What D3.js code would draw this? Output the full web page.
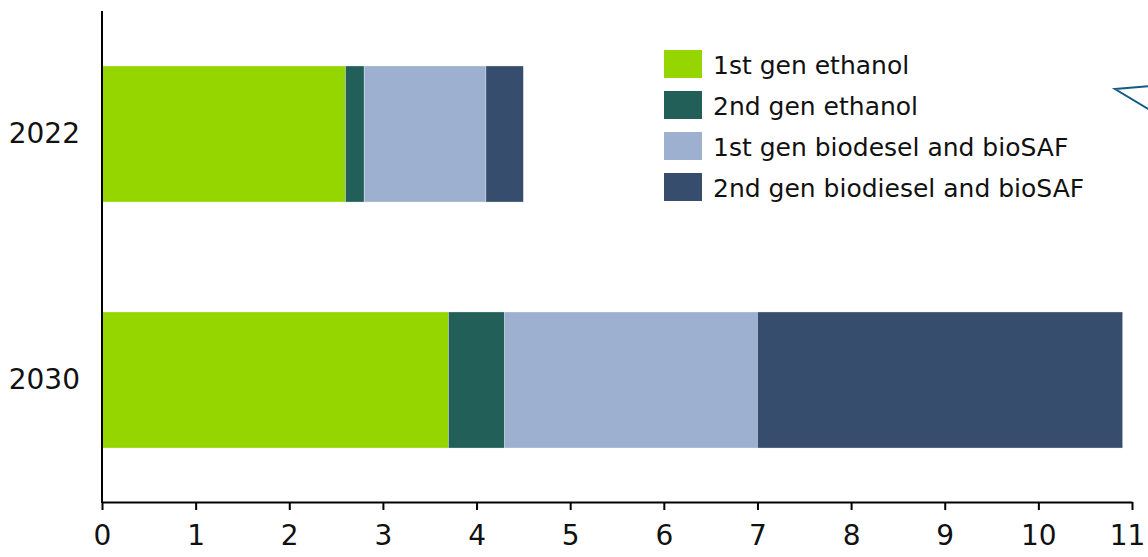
<!DOCTYPE html>
<html>
<head>
<meta charset="utf-8">
<script src="https://cdn.jsdelivr.net/npm/d3@7"></script>
<style>
  body { margin: 0; background: #fff; }
  svg text { font-family: "DejaVu Sans", sans-serif; fill: #111; }
</style>
</head>
<body>
<div id="container"></div>
<script>
/* DATA */
const years = ["2022", "2030"];
const seriesNames = ["1st gen ethanol", "2nd gen ethanol", "1st gen biodesel and bioSAF", "2nd gen biodiesel and bioSAF"];
const firstGenEthanol = [2.6, 3.7];
const secondGenEthanol = [0.2, 0.6];
const firstGenBiodiesel = [1.3, 2.7];
const secondGenBiodiesel = [0.4, 3.9];
const xTicks = [0, 1, 2, 3, 4, 5, 6, 7, 8, 9, 10, 11];
const colors = ["#96d600", "#215f58", "#9eb0cf", "#374d6e"];

const width = 1148, height = 557;

const rows = years.map((y, i) => ({
  year: y,
  s0: firstGenEthanol[i],
  s1: secondGenEthanol[i],
  s2: firstGenBiodiesel[i],
  s3: secondGenBiodiesel[i]
}));
const keys = ["s0", "s1", "s2", "s3"];
const stacked = d3.stack().keys(keys)(rows);

const svg = d3.select("#container")
  .append("svg")
  .attr("width", width)
  .attr("height", height);

// SCALES
const x = d3.scaleLinear().domain([0, 11]).range([102, 1132]);
const y = d3.scaleBand()
  .domain(years)
  .range([11, 503])
  .paddingInner(0.447)
  .paddingOuter(0.2235);

// BARS
svg.append("g")
  .selectAll("g")
  .data(stacked)
  .join("g")
  .attr("fill", (d, i) => colors[i])
  .selectAll("rect")
  .data(d => d)
  .join("rect")
  .attr("x", d => x(d[0]))
  .attr("y", d => y(d.data.year))
  .attr("width", d => x(d[1]) - x(d[0]))
  .attr("height", y.bandwidth())
  .attr("stroke", "rgba(255,255,255,0.5)")
  .attr("stroke-width", 0.6);

// AXES
const xAxis = svg.append("g")
  .attr("transform", "translate(0,502)")
  .call(d3.axisBottom(x).tickValues(xTicks).tickSize(8).tickPadding(15).tickSizeOuter(0));
xAxis.select(".domain").attr("stroke", "#000").attr("stroke-width", 2);
xAxis.selectAll(".tick line").attr("stroke", "#000").attr("stroke-width", 2);
xAxis.selectAll("text").style("font-size", "28px").attr("fill", "#111");
// keep the last label inside the frame
xAxis.selectAll(".tick text").filter(d => d === 11).attr("dx", -5);

const yAxis = svg.append("g")
  .attr("transform", "translate(102,0)")
  .call(d3.axisLeft(y).tickSize(0).tickPadding(22));
yAxis.select(".domain").attr("stroke", "#000").attr("stroke-width", 2)
  .attr("d", "M0,11V503");
yAxis.selectAll("text").style("font-size", "28px").attr("fill", "#111");

// LEGEND
const legend = svg.append("g").attr("transform", "translate(664,50)");
const item = legend.selectAll("g")
  .data(seriesNames)
  .join("g")
  .attr("transform", (d, i) => `translate(0,${i * 41})`);
item.append("rect")
  .attr("width", 38)
  .attr("height", 28)
  .attr("fill", (d, i) => colors[i]);
item.append("text")
  .attr("x", 49)
  .attr("y", 17)
  .attr("dominant-baseline", "middle")
  .style("font-size", "25px")
  .text(d => d);

// callout arrow at top right (clipped by frame)
svg.append("path")
  .attr("d", "M1150,86 L1115,89 L1150,110")
  .attr("fill", "none")
  .attr("stroke", "#135a88")
  .attr("stroke-width", 2);
</script>
</body>
</html>
